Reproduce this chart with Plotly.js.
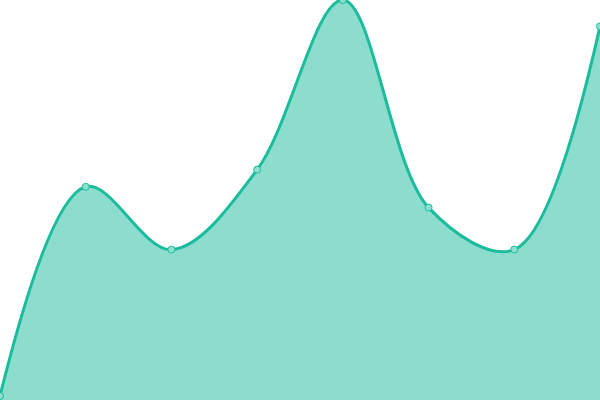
<!DOCTYPE html>
<html>
<head>
<meta charset="utf-8">
<script src="https://cdn.plot.ly/plotly-3.0.1.min.js"></script>
<style>
  html, body { margin: 0; padding: 0; background: #fff; }
  #chart { width: 600px; height: 400px; }
</style>
</head>
<body>
<div id="chart"></div>
<script>
// values, 0..100 scale
var xs = [0, 1, 2, 3, 4, 5, 6, 7];
var values = [1, 53.3, 37.6, 57.6, 100, 48.1, 37.6, 93.4];

var lineColor = '#1abc9c';

var trace = {
	x: xs,
	y: values,
	type: 'scatter',
	mode: 'lines+markers',
	fill: 'tozeroy',
	fillcolor: 'rgba(26,188,156,0.5)',
	line: {color: lineColor, width: 3, shape: 'spline', smoothing: 1},
	marker: {size: 7, color: '#8de0cf', line: {color: lineColor, width: 1}},
	hoverinfo: 'none'
};

var layout = {
	width: 600,
	height: 400,
	margin: {l: 0, r: 0, t: 0, b: 0, pad: 0},
	paper_bgcolor: '#fff',
	plot_bgcolor: '#fff',
	showlegend: false,
	xaxis: {range: [0, 7], visible: false, fixedrange: true},
	yaxis: {range: [0, 100], visible: false, fixedrange: true}
};

Plotly.newPlot('chart', [trace], layout, {displayModeBar: false, staticPlot: true});
</script>
</body>
</html>
